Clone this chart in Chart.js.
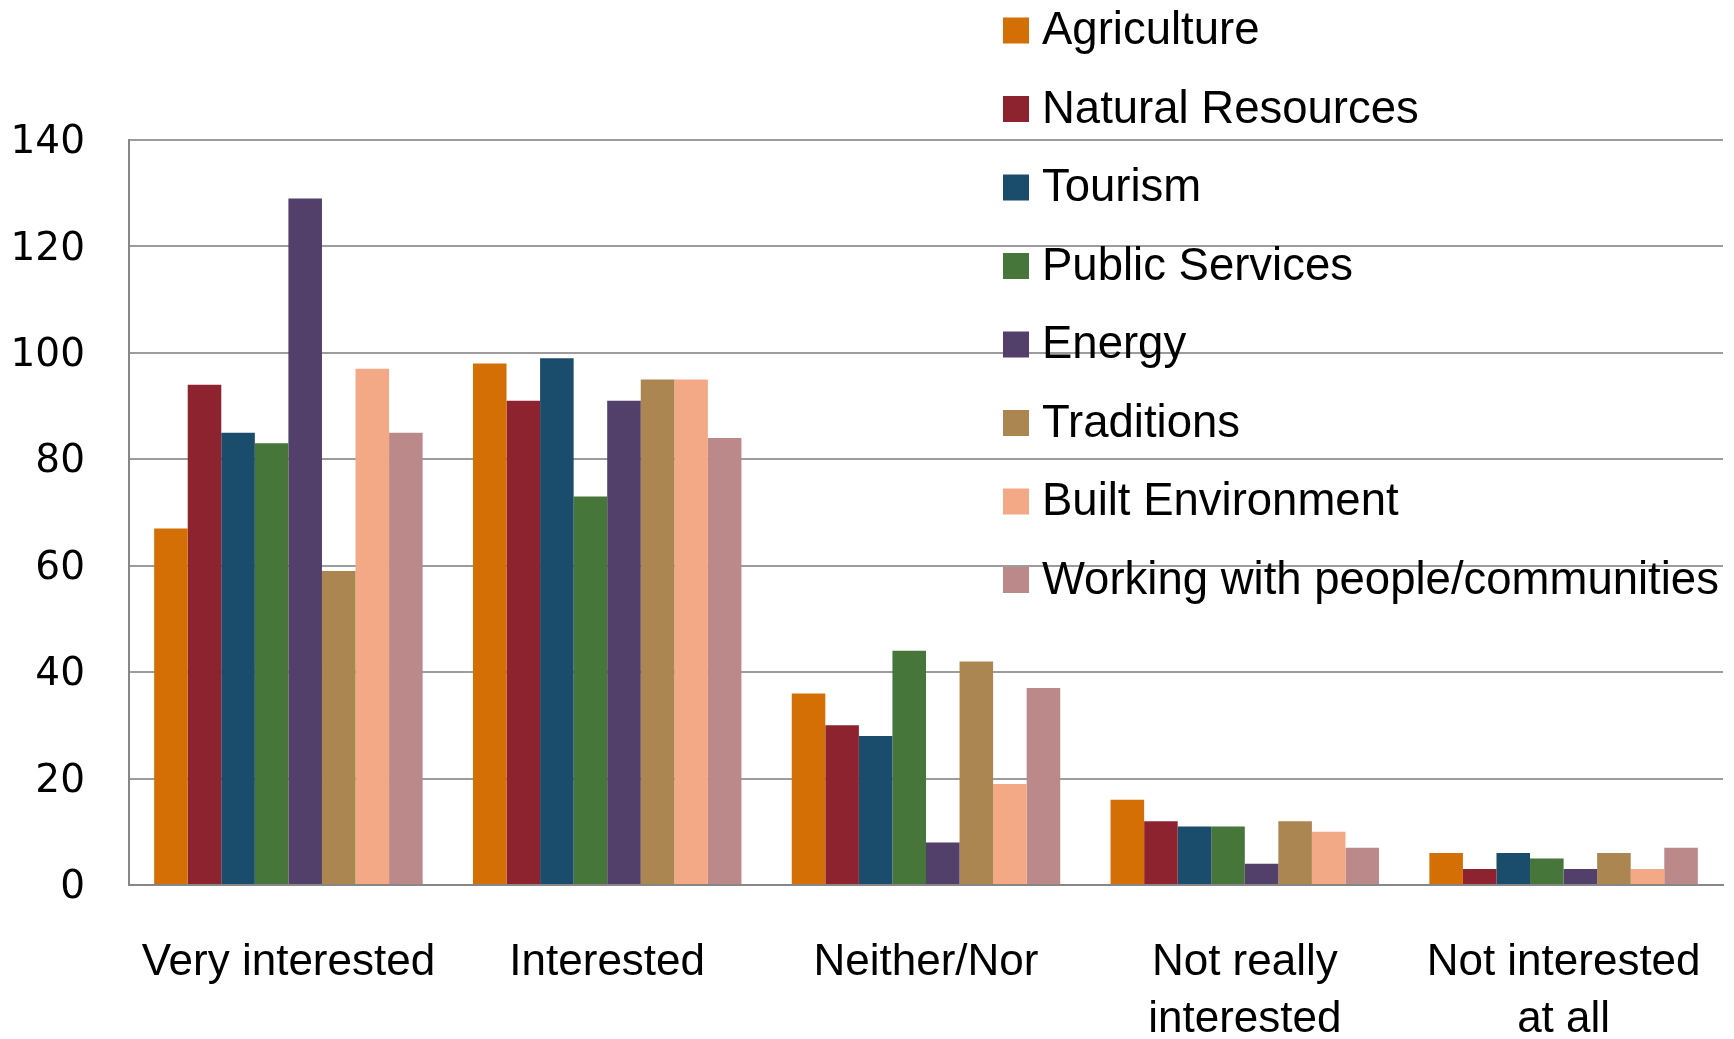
<!DOCTYPE html>
<html>
<head>
<meta charset="utf-8">
<script src="https://cdn.jsdelivr.net/npm/chart.js@4"></script>
<style>
  html, body { margin: 0; padding: 0; background: #fff; }
</style>
</head>
<body>
<canvas id="interestChart" width="1734" height="1039"></canvas>
<script>
const categories = ["Very interested", "Interested", "Neither/Nor", ["Not really", "interested"], ["Not interested", "at all"]];
const sectorNames = ["Agriculture", "Natural Resources", "Tourism", "Public Services", "Energy", "Traditions", "Built Environment", "Working with people/communities"];
const sectorColors = ["#d46f06", "#8e2330", "#1a4d6c", "#46763a", "#523f6a", "#ab8650", "#f3a986", "#bb898a"];

const agriculture = [67, 98, 36, 16, 6];
const naturalResources = [94, 91, 30, 12, 3];
const tourism = [85, 99, 28, 11, 6];
const publicServices = [83, 73, 44, 11, 5];
const energy = [129, 91, 8, 4, 3];
const traditions = [59, 95, 42, 12, 6];
const builtEnvironment = [97, 95, 19, 10, 3];
const workingWithPeople = [85, 84, 37, 7, 7];

const yTicks = [0, 20, 40, 60, 80, 100, 120, 140];

const series = [agriculture, naturalResources, tourism, publicServices, energy, traditions, builtEnvironment, workingWithPeople];
const labelFont = '"Liberation Sans", Arial, sans-serif';

// legend sits in the top right corner, over the plot
const sideLegend = {
    id: 'sideLegend',
    afterDraw(chart) {
        const ctx = chart.ctx;
        ctx.save();
        ctx.font = '45.5px ' + labelFont;
        ctx.textBaseline = 'middle';
        ctx.textAlign = 'left';
        chart.data.datasets.forEach((ds, i) => {
            const y = 30.5 + i * 78.5;
            ctx.fillStyle = ds.backgroundColor;
            ctx.fillRect(1003, y - 13, 26, 26);
            ctx.fillStyle = '#000';
            ctx.fillText(ds.label, 1042, y + 1);
        });
        ctx.restore();
    }
};

new Chart(document.getElementById('interestChart').getContext('2d'), {
    type: 'bar',
    data: {
        labels: categories,
        datasets: series.map((values, i) => ({
            label: sectorNames[i],
            data: values,
            backgroundColor: sectorColors[i],
            categoryPercentage: 8 / 9.5,
            barPercentage: 1
        }))
    },
    options: {
        responsive: false,
        animation: false,
        devicePixelRatio: 1,
        layout: { padding: { top: 140, right: 11, left: 0, bottom: 0 } },
        plugins: {
            legend: { display: false },
            tooltip: { enabled: false }
        },
        scales: {
            x: {
                grid: { display: false, drawTicks: false },
                border: { display: true, color: '#878787', width: 2 },
                ticks: {
                    color: '#000',
                    font: { family: labelFont, size: 44, lineHeight: 1.3 },
                    padding: 49,
                    maxRotation: 0,
                    autoSkip: false
                },
                afterFit: (scale) => {
                    scale.height = 154;
                    scale.paddingLeft = 0;
                    scale.paddingRight = 0;
                }
            },
            y: {
                min: 0,
                max: 140,
                afterBuildTicks: (scale) => { scale.ticks = yTicks.map(v => ({ value: v })); },
                grid: { color: '#9c9c9c', lineWidth: 2, drawTicks: false },
                border: { display: true, color: '#878787', width: 2 },
                ticks: {
                    color: '#000',
                    font: { family: '"DejaVu Sans", sans-serif', size: 39 },
                    padding: 44,
                    labelOffset: 3
                },
                afterFit: (scale) => { scale.width = 129; }
            }
        }
    },
    plugins: [sideLegend]
});
</script>
</body>
</html>
